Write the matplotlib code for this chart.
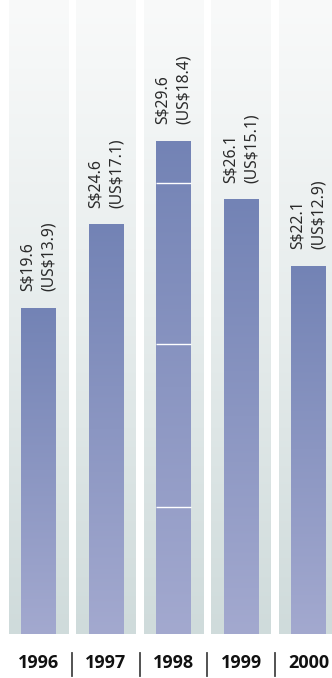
import matplotlib
matplotlib.use('Agg')
import matplotlib.pyplot as plt
import numpy as np
from matplotlib.colors import LinearSegmentedColormap

# data
years = ['1996', '1997', '1998', '1999', '2000']
sgd = [19.6, 24.6, 29.6, 26.1, 22.1]
usd = [13.9, 17.1, 18.4, 15.1, 12.9]
# white divider lines inside the 1998 bar
div_1998 = [7.6, 17.4, 27.1]

y_top = 38.06

fig = plt.figure(figsize=(3.32, 6.78), dpi=100)
ax = fig.add_axes([0, 44/678, 1, 634/678])

# row 0 = top of each image (light end)
grad = np.linspace(0, 1, 256).reshape(-1, 1)
panel_cmap = LinearSegmentedColormap.from_list('panel', ['#f9fafa', '#e6ecec', '#cfdbdb'])
bar_cmap = LinearSegmentedColormap.from_list('bar', ['#7383b5', '#a3a9cf'])

x = np.arange(len(years))

# background columns
for xi in x:
    ax.imshow(grad, extent=(xi - 0.437, xi + 0.437, 0, y_top), cmap=panel_cmap,
              origin='upper', aspect='auto', interpolation='bicubic', zorder=0)

# bars with vertical gradient
bars = ax.bar(x, sgd, width=0.504, color='#8592c0', zorder=1)
for b in bars:
    x0, w, h = b.get_x(), b.get_width(), b.get_height()
    im = ax.imshow(grad, extent=(x0, x0 + w, 0, h), cmap=bar_cmap,
                   origin='upper', aspect='auto', interpolation='bicubic', zorder=2)
    im.set_clip_path(b)

b98 = bars[years.index('1998')]
ax.hlines(div_1998, b98.get_x(), b98.get_x() + b98.get_width(),
          color='white', lw=1.0, zorder=3)

# value labels
for xi, s, u in zip(x, sgd, usd):
    ax.text(xi, s + 1.0, f'S${s}\n(US${u})', rotation=90, ha='center', va='bottom',
            multialignment='left', linespacing=1.45, fontsize=11.3,
            family='Noto Sans', color='#2a2a2a', zorder=4)

# year labels and separators under the chart
trans = ax.get_xaxis_transform()
for xi, yr in zip(x, years):
    ax.text(xi, -0.045, yr, transform=trans, ha='center', va='center',
            fontsize=13, fontweight='bold', family='Open Sans', color='#111111',
            clip_on=False)
for xi in x[:-1]:
    ax.plot([xi + 0.5, xi + 0.5], [-0.030, -0.066], transform=trans,
            color='#444444', lw=1.3, clip_on=False)

ax.set_xlim(-0.570, 4.348)
ax.set_ylim(0, y_top)
ax.axis('off')

fig.savefig('out.png', dpi=100, facecolor='white')
